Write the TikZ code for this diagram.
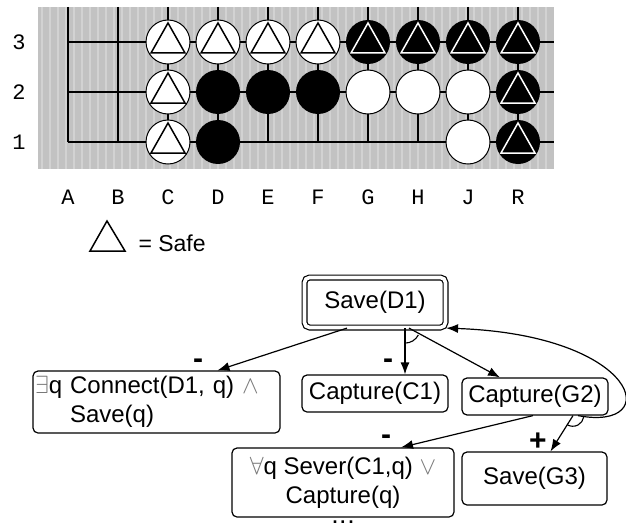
\documentclass[tikz,border=0pt]{standalone}
\usepackage{fontspec}
\setmainfont{Liberation Sans}
\newfontfamily\boardfont{Liberation Mono}
\usetikzlibrary{arrows.meta,positioning,calc}
\definecolor{boardgray}{RGB}{194,194,194}
\definecolor{grainlight}{RGB}{210,210,210}
\definecolor{symgray}{RGB}{120,120,120}
\newcommand{\lgsym}[1]{\textcolor{symgray}{$#1$}}

\begin{document}
\begin{tikzpicture}[x=1pt, y=-1pt,
    goalbox/.style={rectangle, rounded corners=5pt, draw=black, line width=1.2pt,
                    inner sep=2pt, align=center, font=\fontsize{24}{29}\selectfont},
    topgoal/.style={goalbox, double, double distance=3.6pt,
                    minimum width=141pt, minimum height=50pt},
    arr/.style={-{Latex[length=12pt,width=9pt]}, line width=1.2pt},
    andarc/.style={line width=1.1pt},
    signlbl/.style={inner sep=0pt, font=\fontsize{30}{30}\selectfont\bfseries},
    gridline/.style={line width=1.3pt},
    grain/.style={grainlight, line width=2.5pt},
    wstone/.style={fill=white, draw=black, line width=1pt},
    wmark/.style={draw=black, line width=1.5pt, line join=miter},
    bmark/.style={draw=white, line width=1.5pt, line join=miter},
    boardlbl/.style={font=\boardfont\fontsize{22}{24}\selectfont},
    lgtext/.style={font=\fontsize{23}{26}\selectfont}
  ]
    \useasboundingbox (0,0) rectangle (626,527);

    % board and grain
    \fill[boardgray] (38,7) rectangle (554,169);
    \foreach \sx in {42,50,...,550} \draw[grain] (\sx,7) -- (\sx,169);
    \foreach \i in {0,...,9} \draw[gridline] (68+50*\i,7) -- (68+50*\i,142);
    \foreach \ry in {42,92,142} \draw[gridline] (68,\ry) -- (554,\ry);

    % white stones, safe
    \foreach \x/\y in {168/42,218/42,268/42,318/42,168/92,168/142} {
      \draw[wstone] (\x,\y) circle[radius=22pt];
      \draw[wmark] (\x,\y-19) -- (\x+17,\y+11) -- (\x-17,\y+11) -- cycle;
    }
    % black stones, safe
    \foreach \x/\y in {368/42,418/42,468/42,518/42,518/92,518/142} {
      \fill[black] (\x,\y) circle[radius=22pt];
      \draw[bmark] (\x,\y-19) -- (\x+17,\y+11) -- (\x-17,\y+11) -- cycle;
    }
    % other stones
    \foreach \x/\y in {368/92,418/92,468/92,468/142} \draw[wstone] (\x,\y) circle[radius=22pt];
    \foreach \x/\y in {218/92,268/92,318/92,218/142} \fill[black] (\x,\y) circle[radius=22pt];

    % coordinates
    \foreach \l [count=\i from 0] in {A,B,C,D,E,F,G,H,J,R}
      \node[boardlbl] (col\l) at (68+50*\i,197) {\l};
    \foreach \r/\ry in {3/42,2/92,1/142}
      \node[boardlbl] (row\r) at (19,\ry) {\r};

    % legend
    \draw[wmark] (107,221) -- (125,251) -- (90,251) -- cycle;
    \node[lgtext, anchor=west] (safe) at (135,243) {= Safe};

    % goal tree
    \node[topgoal] (d1) at (375,302.5) {Save(D1)};
    \node[goalbox, minimum width=146pt, minimum height=37pt] (c1) at (375,393.5) {Capture(C1)};
    \node[goalbox, minimum width=146pt, minimum height=37pt] (g2) at (535,396.5) {Capture(G2)};
    \node[goalbox, minimum width=145pt, minimum height=53pt] (g3) at (534.5,478.5) {Save(G3)};
    \node[goalbox, minimum width=222pt, minimum height=69pt] (sv) at (343,482.5)
      {\lgsym{\forall}q Sever(C1,q) \lgsym{\vee}\\Capture(q)};
    \node[goalbox, text width=243pt, align=left, minimum height=62pt] (cn) at (156.5,402)
      {\lgsym{\exists}q Connect(D1, q) \lgsym{\wedge}\\\hspace*{35pt}Save(q)};
    \node[anchor=base, inner sep=0pt, font=\fontsize{18}{18}\selectfont\bfseries] (more) at (343,523)
      {.\hspace{3pt}.\hspace{3pt}.};

    \coordinate (d1l) at ($(d1.south)+(-28,0)$);
    \coordinate (d1m) at ($(d1.south)+(30,0)$);
    \coordinate (d1r) at ($(d1.south)+(34,0)$);
    \coordinate (g2l) at ($(g2.south)+(-2,0)$);
    \coordinate (g2m) at ($(g2.south)+(38,0)$);
    \coordinate (g2r) at ($(g2.south)+(43,0)$);

    \draw[arr] (d1l) -- ($(cn.north)+(61,0)$);
    \draw[arr] (d1m) -- ($(c1.north)+(30,0)$);
    \draw[arr] (d1r) -- ($(g2.north)+(-35,0)$);
    \draw[arr] (g2l) -- ($(sv.north)+(58,0)$);
    \draw[arr] (g2m) -- ($(g3.north)+(16,0)$);
    \draw[arr] (g2r) .. controls (665,432) and (640,335) .. (d1.south east);

    % and-arcs
    \draw[andarc] ($(d1m)+(0,15)$) arc[start angle=-90, end angle=-27, radius=15pt];
    \draw[andarc] ($(g2m)+(-6,9)$) arc[start angle=-122, end angle=-8, radius=11pt];

    % signs
    \node[signlbl] (s1) at (198,364) {-};
    \node[signlbl] (s2) at (388,364) {-};
    \node[signlbl] (s3) at (386,440) {-};
    \node[signlbl] (s4) at (538,442) {+};
\end{tikzpicture}
\end{document}
